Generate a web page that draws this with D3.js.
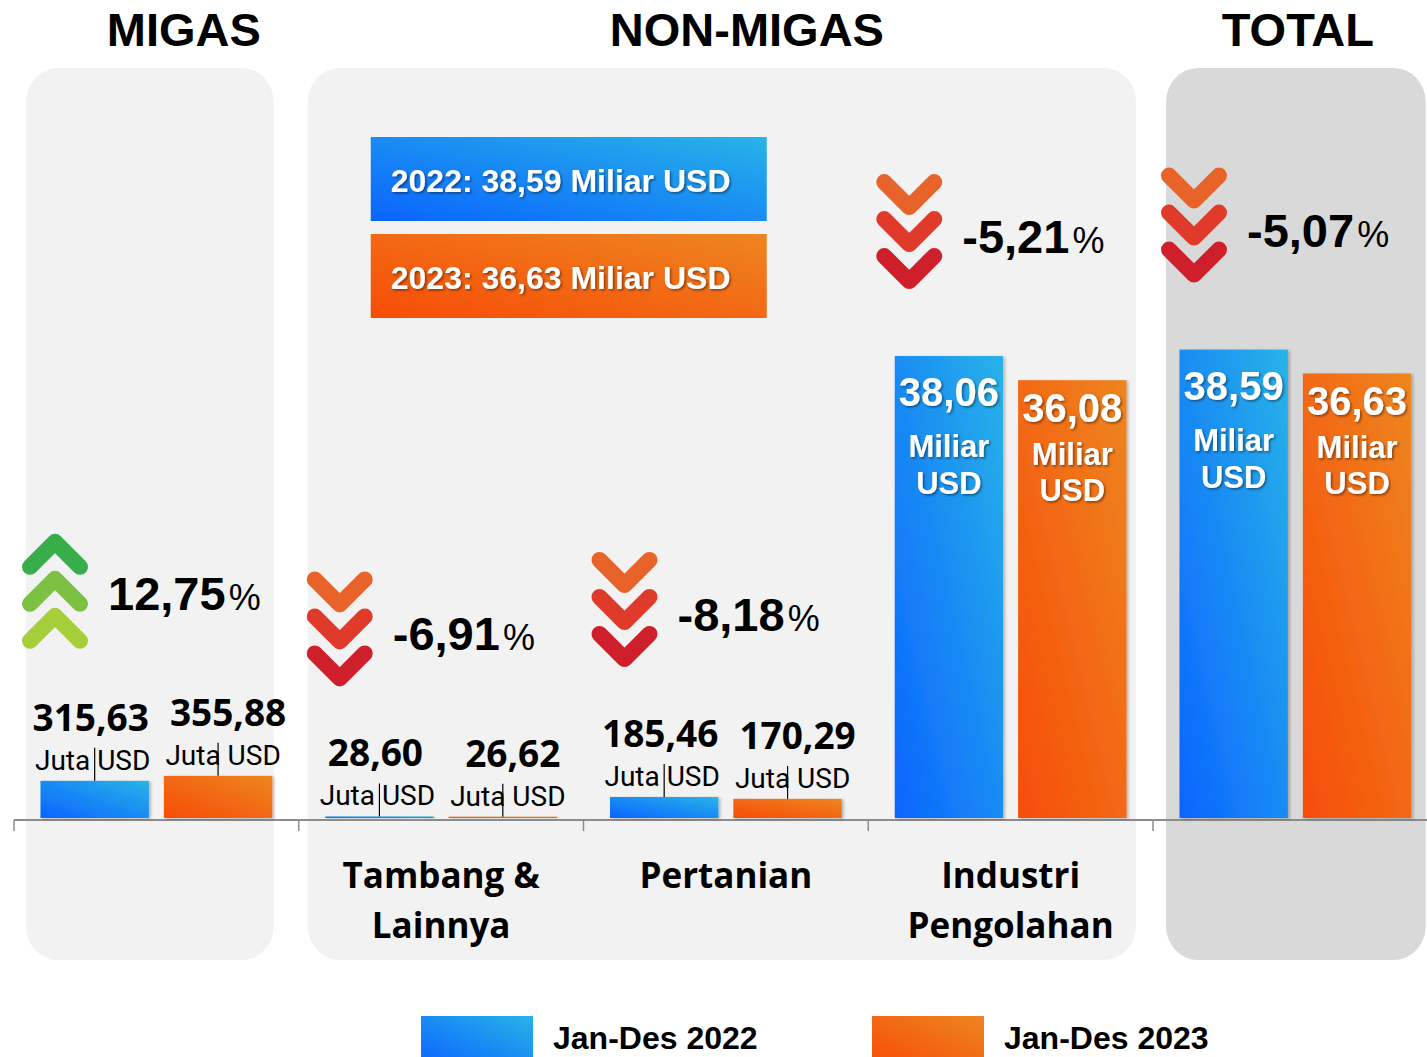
<!DOCTYPE html>
<html><head><meta charset="utf-8">
<script src="https://cdn.jsdelivr.net/npm/d3@7"></script>
<style>html,body{margin:0;padding:0;background:#fff;}svg{display:block;}</style>
</head><body>
<div id="chart"></div>
<script>
// ---------- data ----------
const categories = ["MIGAS", "Tambang & Lainnya", "Pertanian", "Industri Pengolahan", "TOTAL"];
const tickLabels = [[], ["Tambang &", "Lainnya"], ["Pertanian"], ["Industri", "Pengolahan"], []];
const units = ["Juta", "Juta", "Juta", "Miliar", "Miliar"];
const series = ["Jan-Des 2022", "Jan-Des 2023"];
const seriesYears = ["2022", "2023"];
const values2022 = [315.63, 28.60, 185.46, 38.06, 38.59];
const values2023 = [355.88, 26.62, 170.29, 36.08, 36.63];
const changePct = [12.75, -6.91, -8.18, -5.21, -5.07];
const groupTitles = ["MIGAS", "NON-MIGAS", "TOTAL"];
const groupSpans = [[0, 0], [1, 3], [4, 4]];

// ---------- setup ----------
const W = 1427, H = 1057, baseY = 820;
const svg = d3.select("#chart").append("svg").attr("width", W).attr("height", H);
const defs = svg.append("defs");
function grad(id, c0, c1) {
  const g = defs.append("linearGradient").attr("id", id)
    .attr("x1", 0).attr("y1", 1).attr("x2", 1).attr("y2", 0);
  g.append("stop").attr("offset", "0%").attr("stop-color", c0);
  g.append("stop").attr("offset", "100%").attr("stop-color", c1);
}
grad("gBlue", "#0a64ff", "#28b3e8");
grad("gOrange", "#f74c08", "#ee8520");
const fills = ["url(#gBlue)", "url(#gOrange)"];
const sh = defs.append("filter").attr("id", "barShadow").attr("x", "-10%").attr("y", "-10%").attr("width", "130%").attr("height", "130%");
sh.append("feDropShadow").attr("dx", 2).attr("dy", 1).attr("stdDeviation", 1.5).attr("flood-color", "#000").attr("flood-opacity", 0.25);
const ts = defs.append("filter").attr("id", "textShadow").attr("x", "-10%").attr("y", "-20%").attr("width", "130%").attr("height", "150%");
ts.append("feDropShadow").attr("dx", 1.5).attr("dy", 1.5).attr("stdDeviation", 1).attr("flood-color", "#000").attr("flood-opacity", 0.45);

const x = d3.scaleBand().domain(categories).range([14, 14 + 284.75 * 5]);
const xs = d3.scaleBand().domain(seriesYears).range([0, x.bandwidth()]).paddingInner(0.1215).paddingOuter(0.2146);
const yJuta = d3.scaleLinear().domain([0, 400]).range([baseY, baseY - 49.6]);
const yMiliar = d3.scaleLinear().domain([0, 40]).range([baseY, baseY - 487.6]);
const yFor = i => units[i] === "Juta" ? yJuta : yMiliar;
const fmt = v => d3.format(".2f")(v).replace(".", ",").replace("\u2212", "-");

// ---------- panels ----------
const padL = [12, 9, 13], padR = [25, 17, 12];
const panels = groupSpans.map((s, i) => {
  const x0 = x(categories[s[0]]) + padL[i];
  const x1 = x(categories[s[1]]) + x.step() - padR[i];
  return { x0, x1, title: groupTitles[i], i };
});
const panelFill = ["#f2f2f2", "#f2f2f2", "#d9d9d9"];
const titleDx = [34, 25, 2];
svg.selectAll("rect.panel").data(panels).join("rect").attr("class", "panel")
  .attr("x", d => d.x0).attr("y", 68).attr("width", d => d.x1 - d.x0).attr("height", 892)
  .attr("rx", 32).attr("ry", 34).attr("fill", (d, i) => panelFill[i]);
svg.selectAll("text.title").data(panels).join("text").attr("class", "title")
  .attr("x", (d, i) => (d.x0 + d.x1) / 2 + titleDx[i]).attr("y", 46)
  .attr("text-anchor", "middle").attr("font-family", "Liberation Sans, Arial, sans-serif")
  .attr("font-weight", "bold").attr("font-size", 47).attr("fill", "#000").text(d => d.title);

// ---------- top info boxes (total) ----------
const ti = categories.length - 1;
const totals = [values2022[ti], values2023[ti]];
const infoG = svg.append("g");
totals.forEach((v, k) => {
  const bx = panels[1].x0 + 63, by = 137 + k * 97;
  infoG.append("rect").attr("x", bx).attr("y", by).attr("width", 396).attr("height", 84).attr("fill", fills[k]);
  infoG.append("text").attr("x", bx + 20).attr("y", by + 55)
    .attr("font-family", "Liberation Sans, Arial, sans-serif").attr("font-weight", "bold")
    .attr("font-size", 32).attr("fill", "#fff").attr("filter", "url(#textShadow)")
    .text(`${seriesYears[k]}: ${fmt(v)} Miliar USD`);
});

// ---------- axis ----------
const axisG = svg.append("g");
axisG.append("line").attr("x1", x.range()[0]).attr("x2", W).attr("y1", baseY).attr("y2", baseY)
  .attr("stroke", "#8c8c8c").attr("stroke-width", 2);
axisG.selectAll("line.tick").data(categories).join("line").attr("class", "tick")
  .attr("x1", d => x(d)).attr("x2", d => x(d)).attr("y1", baseY).attr("y2", baseY + 11)
  .attr("stroke", "#8c8c8c").attr("stroke-width", 1.5);
categories.forEach((c, i) => {
  tickLabels[i].forEach((t, j) => {
    axisG.append("text").attr("x", x(c) + x.bandwidth() / 2).attr("y", 888 + j * 50)
      .attr("text-anchor", "middle").attr("font-family", "Open Sans, sans-serif")
      .attr("font-weight", "bold").attr("font-size", 35).attr("fill", "#000").text(t);
  });
});

// ---------- bars ----------
const barData = [];
categories.forEach((c, i) => {
  [values2022[i], values2023[i]].forEach((v, k) => barData.push({ c, i, k, v }));
});
const bx = d => x(d.c) + xs(seriesYears[d.k]);
const by = d => yFor(d.i)(d.v);
svg.append("g").selectAll("rect").data(barData).join("rect")
  .attr("x", bx).attr("y", by).attr("width", xs.bandwidth())
  .attr("height", d => baseY - 2 - by(d) > 0 ? baseY - 2 - by(d) : 1)
  .attr("fill", d => fills[d.k]).attr("filter", "url(#barShadow)");

// ---------- labels ----------
const lblG = svg.append("g");
const inOffsets = [[50, 101, 138], [42, 85, 121]];
const outDx = [-4, 10];
barData.forEach(d => {
  const cx = bx(d) + xs.bandwidth() / 2, top = by(d);
  if (units[d.i] === "Juta") {
    const jy = top - 11;
    lblG.append("line").attr("x1", cx).attr("x2", cx).attr("y1", top).attr("y2", jy - 22)
      .attr("stroke", "#000").attr("stroke-width", 1.2);
    lblG.append("text").attr("x", cx + outDx[d.k] / 2).attr("y", jy).attr("text-anchor", "middle")
      .attr("font-family", "Roboto, Liberation Sans, sans-serif").attr("font-size", 28)
      .attr("fill", "#000").text("Juta USD");
    lblG.append("text").attr("x", cx + outDx[d.k]).attr("y", jy - 39).attr("text-anchor", "middle")
      .attr("font-family", "Open Sans, sans-serif").attr("font-weight", "bold").attr("font-size", 37)
      .attr("fill", "#000").text(fmt(d.v));
  } else {
    const off = inOffsets[d.k];
    const lines = [[fmt(d.v), 40, off[0]], ["Miliar", 31, off[1]], ["USD", 31, off[2]]];
    lines.forEach(([t, fs, dy]) => {
      lblG.append("text").attr("x", cx).attr("y", top + dy).attr("text-anchor", "middle")
        .attr("font-family", "Liberation Sans, Arial, sans-serif").attr("font-weight", "bold")
        .attr("font-size", fs).attr("fill", "#fff").attr("filter", "url(#textShadow)").text(t);
    });
  }
});

// ---------- change indicators ----------
const upColors = ["#37ae4a", "#7cc144", "#a6cd3a"];
const downColors = ["#e8632a", "#df3a2a", "#cf1f2a"];
const line = d3.line();
const indG = svg.append("g");
categories.forEach((c, i) => {
  const maxTop = Math.min(yFor(i)(values2022[i]), yFor(i)(values2023[i]));
  const y0 = maxTop - (units[i] === "Juta" ? 245 : 182);
  const x0 = x(c) + 8;
  const up = changePct[i] > 0;
  for (let k = 0; k < 3; k++) {
    const yy = y0 + k * 37;
    const pts = up
      ? [[x0 + 8, yy + 36], [x0 + 33, yy + 11], [x0 + 58, yy + 36]]
      : [[x0 + 8, yy + 8], [x0 + 33, yy + 33], [x0 + 58, yy + 8]];
    indG.append("path").attr("d", line(pts)).attr("fill", "none")
      .attr("stroke", up ? upColors[k] : downColors[k]).attr("stroke-width", 16)
      .attr("stroke-linecap", "round").attr("stroke-linejoin", "round");
  }
  const t = indG.append("text").attr("x", x0 + 86).attr("y", y0 + 79)
    .attr("font-family", "Liberation Sans, Arial, sans-serif").attr("fill", "#000");
  t.append("tspan").attr("font-weight", "bold").attr("font-size", 47).text(fmt(changePct[i]));
  t.append("tspan").attr("font-size", 36).attr("dx", 3).text("%");
});

// ---------- legend ----------
const legX = [421, 872];
series.forEach((s, k) => {
  svg.append("rect").attr("x", legX[k]).attr("y", 1016).attr("width", 112).attr("height", 50).attr("fill", fills[k]);
  svg.append("text").attr("x", legX[k] + 132).attr("y", 1049)
    .attr("font-family", "Liberation Sans, Arial, sans-serif").attr("font-weight", "bold")
    .attr("font-size", 32).attr("fill", "#000").text(s);
});
</script>
</body></html>
